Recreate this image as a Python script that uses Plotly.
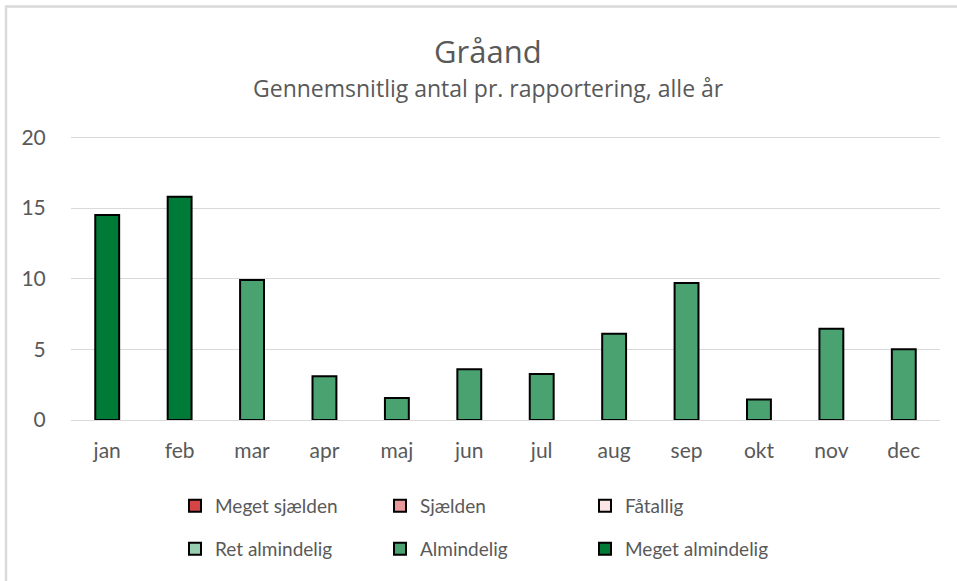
import plotly.graph_objects as go

months = ["jan", "feb", "mar", "apr", "maj", "jun", "jul", "aug", "sep", "okt", "nov", "dec"]
values = [14.5, 15.8, 9.9, 3.1, 1.55, 3.6, 3.25, 6.1, 9.7, 1.45, 6.45, 5.0]
month_class = ["Meget almindelig", "Meget almindelig", "Almindelig", "Almindelig", "Almindelig",
               "Almindelig", "Almindelig", "Almindelig", "Almindelig", "Almindelig",
               "Almindelig", "Almindelig"]
classes = ["Meget sjælden", "Sjælden", "Fåtallig", "Ret almindelig", "Almindelig", "Meget almindelig"]
class_colors = ["#d64545", "#e8999b", "#fbe5e6", "#99cfb1", "#4aa270", "#007a37"]
title = "Gråand"
subtitle = "Gennemsnitlig antal pr. rapportering, alle år"

FONT = "Lato"
TFONT = "Open Sans"
GRAY = "#595959"

fig = go.Figure()
for i, (cls, col) in enumerate(zip(classes, class_colors)):
    ys = [v if c == cls else None for v, c in zip(values, month_class)]
    fig.add_trace(go.Bar(
        x=months, y=ys, name=cls, width=0.33,
        marker=dict(color=col, line=dict(color="black", width=2)),
        legend="legend" if i < 3 else "legend2",
    ))

# plot area pixels: x 71..940, y(0)=420, y(20)=137
YMAX = 20.1
L, R, B = 71, 940, 420
T = B - 283 * YMAX / 20
W, H = 957, 581
def px(x):
    return (x - L) / (R - L)
def py(y):
    return (B - y) / (B - T)

legend_common = dict(
    orientation="h", entrywidth=160, entrywidthmode="pixels",
    font=dict(family=FONT, size=19, color=GRAY), xanchor="left", yanchor="middle",
    bgcolor="rgba(0,0,0,0)", itemclick=False, traceorder="normal",
)

fig.update_layout(
    width=W, height=H,
    margin=dict(l=L, r=W - R, t=T, b=H - B),
    paper_bgcolor="white", plot_bgcolor="white",
    barmode="overlay",
    showlegend=True,
    font=dict(family=FONT, color=GRAY, size=19),
    legend=dict(x=px(175), y=py(506), **legend_common),
    legend2=dict(x=px(175), y=py(549), **legend_common),
    xaxis=dict(
        showgrid=False, showline=False, zeroline=False,
        ticks="outside", ticklen=12, tickcolor="rgba(0,0,0,0)",
        tickfont=dict(family=FONT, size=21, color=GRAY),
    ),
    yaxis=dict(
        range=[0, YMAX], tickvals=[0, 5, 10, 15, 20], showgrid=True, gridcolor="#d9d9d9", gridwidth=1.3,
        zeroline=True, zerolinecolor="#d9d9d9", zerolinewidth=1.3, showline=False,
        ticks="outside", ticklen=20, tickcolor="rgba(0,0,0,0)",
        tickfont=dict(family=FONT, size=21, color=GRAY),
    ),
    annotations=[
        dict(text=title, x=px(488), y=py(50), xref="paper", yref="paper",
             showarrow=False, xanchor="center", yanchor="middle",
             font=dict(family=TFONT, size=31, color=GRAY)),
        dict(text=subtitle, x=px(488), y=py(88), xref="paper", yref="paper",
             showarrow=False, xanchor="center", yanchor="middle",
             font=dict(family=TFONT, size=23, color=GRAY)),
    ],
    shapes=[
        dict(type="line", xref="paper", yref="paper", x0=px(6), x1=px(W + 5), y0=py(6), y1=py(6),
             line=dict(color="#d9d9d9", width=2.5)),
        dict(type="line", xref="paper", yref="paper", x0=px(6), x1=px(6), y0=py(5), y1=py(H + 5),
             line=dict(color="#d9d9d9", width=2.5)),
    ],
)

fig.write_html("out.html", config={"displayModeBar": False},
               post_script="document.body.style.margin='0';document.body.style.overflow='hidden';")
